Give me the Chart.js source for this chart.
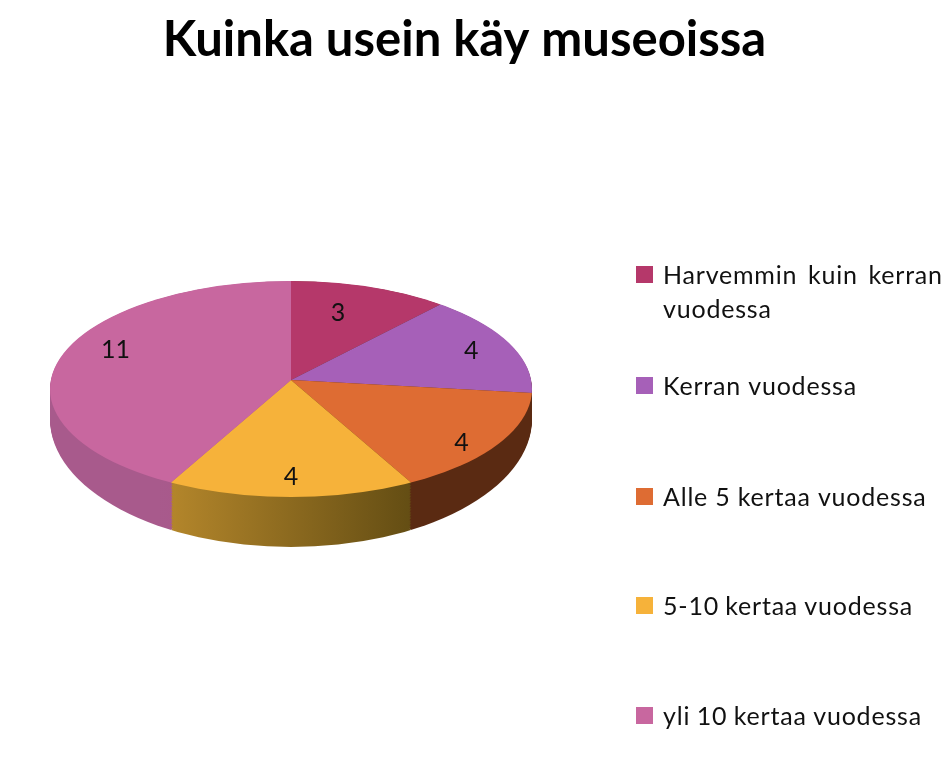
<!DOCTYPE html>
<html>
<head>
<meta charset="utf-8">
<title>Kuinka usein käy museoissa</title>
<script src="https://cdn.jsdelivr.net/npm/chart.js@4"></script>
<style>
  html, body { margin: 0; padding: 0; background: #fff; }
  #wrap { position: relative; width: 952px; height: 757px; }
</style>
</head>
<body>
<div id="wrap"><canvas id="museumChart"></canvas></div>
<script>
const categories = ['Harvemmin kuin kerran vuodessa', 'Kerran vuodessa', 'Alle 5 kertaa vuodessa', '5-10 kertaa vuodessa', 'yli 10 kertaa vuodessa'];
const values = [3, 4, 4, 4, 11];
const sliceColors = ['#B5386A', '#A660B8', '#DE6C33', '#F6B23A', '#C8679F'];
const wallFrom = ['#5A2A12', '#5A2A12', '#5A2A12', '#B8892C', '#A85A8C'];
const wallTo = ['#5A2A12', '#5A2A12', '#5A2A12', '#5F4A12', '#A85486'];

// the original is a tilted pie: the apex sits above the middle of the outline
const CX = 291, APEX_Y = 380, R = 241;
const OUTLINE_Y = 389, RY = 108;
const GROW = 1.2;          // pie drawn oversize, then clipped to the outline
const DEPTH = 30;          // wall height at the sides
const APEX_DROP = 1.58;    // wall is taller at the front
const RY_DROP = 20 / 30;

// label spot per slice: radial factor and y nudge
const labelRadius = [0.55, 0.8, 0.86, 0.9, 0.75];
const labelNudge = [-12, 2, 10, 0, -11];

const legendLines = [['Harvemmin kuin kerran', 'vuodessa'], ['Kerran vuodessa'], ['Alle 5 kertaa vuodessa'], ['5-10 kertaa vuodessa'], ['yli 10 kertaa vuodessa']];
const legendTops = [275, 386, 497, 606, 716];
const legendWordGap = [3.5, 0, 0, -1, -0.7];

function drawLayer(ctx, arcs, fills, d) {
    ctx.save();
    ctx.beginPath();
    ctx.ellipse(CX, OUTLINE_Y + d, R, RY + d * RY_DROP, 0, 0, Math.PI * 2);
    ctx.clip();
    arcs.forEach(function(arc, i) {
        ctx.save();
        ctx.translate(CX, APEX_Y + d * APEX_DROP);
        ctx.scale(GROW, GROW * RY / R);
        ctx.translate(-arc.x, -arc.y);
        const old = arc.options.backgroundColor;
        arc.options.backgroundColor = fills[i];
        arc.draw(ctx);
        arc.options.backgroundColor = old;
        ctx.restore();
    });
    ctx.restore();
}

const pie3d = {
    id: 'pie3d',
    beforeDatasetsDraw(chart) {
        const ctx = chart.ctx;
        const arcs = chart.getDatasetMeta(0).data;

        const wallFills = arcs.map(function(arc, i) {
            // gradient lives in the arc's own space, so it is drawn through the same transform
            const x1 = arc.x + R * Math.sin(arc.startAngle + Math.PI / 2);
            const x2 = arc.x + R * Math.sin(arc.endAngle + Math.PI / 2);
            const g = ctx.createLinearGradient(Math.min(x1, x2), 0, Math.max(x1, x2), 0);
            g.addColorStop(0, wallFrom[i]);
            g.addColorStop(1, wallTo[i]);
            return g;
        });

        for (let d = DEPTH; d >= 1; d--) {
            drawLayer(ctx, arcs, wallFills, d);
        }
        drawLayer(ctx, arcs, sliceColors, 0);
        return false;
    },
    afterDraw(chart) {
        const ctx = chart.ctx;
        const arcs = chart.getDatasetMeta(0).data;
        ctx.save();
        ctx.fillStyle = '#111';
        ctx.font = '25px Lato';
        ctx.textAlign = 'center';
        ctx.textBaseline = 'middle';
        arcs.forEach(function(arc, i) {
            const mid = (arc.startAngle + arc.endAngle) / 2 + Math.PI / 2;
            const x = CX + R * labelRadius[i] * Math.sin(mid);
            const y = APEX_Y - RY * labelRadius[i] * Math.cos(mid) + labelNudge[i];
            ctx.fillText(values[i], x, y);
        });

        // legend
        ctx.textAlign = 'left';
        ctx.letterSpacing = '0.8px';
        legendLines.forEach(function(lines, i) {
            ctx.fillStyle = sliceColors[i];
            ctx.fillRect(636, legendTops[i] - 9, 17, 17);
            ctx.fillStyle = '#111';
            ctx.wordSpacing = legendWordGap[i] + 'px';
            lines.forEach(function(line, j) {
                ctx.fillText(line, 663, legendTops[i] + 1 + j * 34);
            });
        });
        ctx.restore();
    }
};

const museumChart = new Chart(document.getElementById('museumChart').getContext('2d'), {
    type: 'pie',
    data: {
        labels: categories,
        datasets: [{
            data: values,
            backgroundColor: sliceColors,
            borderWidth: 0,
            radius: R
        }]
    },
    options: {
        responsive: true,
        maintainAspectRatio: false,
        animation: false,
        layout: { padding: { right: 23 } },
        plugins: {
            legend: { display: false },
            tooltip: { enabled: false },
            title: {
                display: true,
                text: 'Kuinka usein käy museoissa',
                color: '#000',
                font: { family: 'Lato', size: 49, weight: 'bold' },
                padding: { top: 11, bottom: 10 }
            }
        }
    },
    plugins: [pie3d]
});
</script>
</body>
</html>
